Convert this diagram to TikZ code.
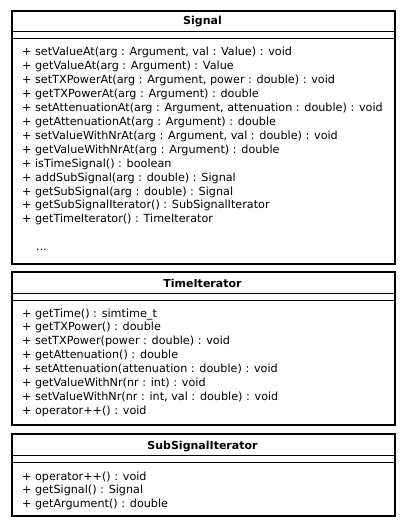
\documentclass[tikz,border=0pt]{standalone}
\usepackage{fontspec}
\setmainfont{DejaVu Sans}
\begin{document}
\begin{tikzpicture}[x=1pt,y=-1pt,
  classbox/.style={draw, line width=2pt, inner sep=0pt, anchor=north west},
  sepline/.style={line width=0.9pt},
  op/.style={anchor=base west, inner sep=0pt, font=\fontsize{11.2}{12}\selectfont},
  cname/.style={anchor=base, inner sep=0pt, font=\fontsize{11}{12}\selectfont\bfseries}]
\useasboundingbox (0,0) rectangle (404,527);
% Signal
\node[classbox, minimum width=383pt, minimum height=253pt] (signal) at (11,10) {};
\node[cname] (signalname) at (202.5,25) {Signal};
\draw[sepline] (11,31) -- (394,31);
\draw[sepline] (11,38.5) -- (394,38.5);
\foreach \t [count=\i from 0] in {
 {+ setValueAt(arg : Argument, val : Value) : void},
 {+ getValueAt(arg : Argument) : Value},
 {+ setTXPowerAt(arg : Argument, power : double) : void},
 {+ getTXPowerAt(arg : Argument) : double},
 {+ setAttenuationAt(arg : Argument, attenuation : double) : void},
 {+ getAttenuationAt(arg : Argument) : double},
 {+ setValueWithNrAt(arg : Argument, val : double) : void},
 {+ getValueWithNrAt(arg : Argument) : double},
 {+ isTimeSignal() : boolean},
 {+ addSubSignal(arg : double) : Signal},
 {+ getSubSignal(arg : double) : Signal},
 {+ getSubSignalIterator() : SubSignalIterator},
 {+ getTimeIterator() : TimeIterator}}
 \node[op] (sigop\i) at (22,56+13.9*\i) {\t};
\node[op] (sigdots) at (36,250) {...};
% TimeIterator
\node[classbox, minimum width=383pt, minimum height=153pt] (timeit) at (11,271) {};
\node[cname] (timeitname) at (202.5,287) {TimeIterator};
\draw[sepline] (11,293) -- (394,293);
\draw[sepline] (11,300.5) -- (394,300.5);
\foreach \t [count=\i from 0] in {
 {+ getTime() : simtime\_t},
 {+ getTXPower() : double},
 {+ setTXPower(power : double) : void},
 {+ getAttenuation() : double},
 {+ setAttenuation(attenuation : double) : void},
 {+ getValueWithNr(nr : int) : void},
 {+ setValueWithNr(nr : int, val : double) : void},
 {+ operator++() : void}}
 \node[op] (timop\i) at (22,317+13.9*\i) {\t};
% SubSignalIterator
\node[classbox, minimum width=383pt, minimum height=82pt] (subit) at (11,433) {};
\node[cname] (subitname) at (202.5,449) {SubSignalIterator};
\draw[sepline] (11,455) -- (394,455);
\draw[sepline] (11,462.5) -- (394,462.5);
\foreach \t [count=\i from 0] in {
 {+ operator++() : void},
 {+ getSignal() : Signal},
 {+ getArgument() : double}}
 \node[op] (subop\i) at (22,480+13.9*\i) {\t};
\end{tikzpicture}
\end{document}
